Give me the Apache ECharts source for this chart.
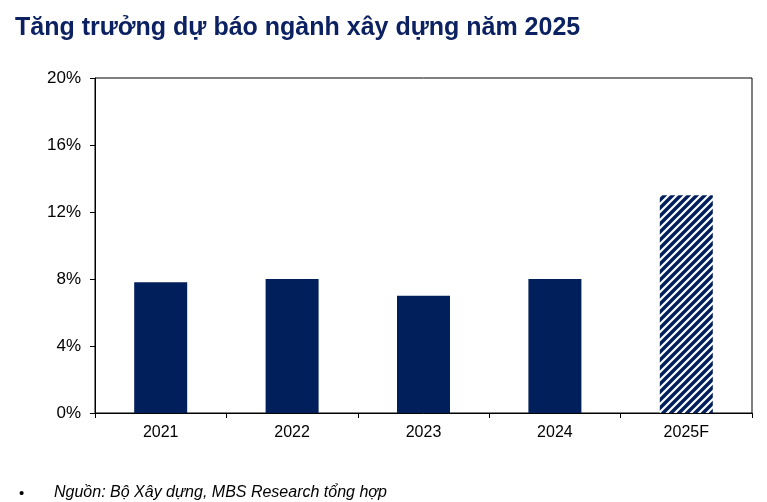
<!DOCTYPE html>
<html>
<head>
<meta charset="utf-8">
<script src="https://cdn.jsdelivr.net/npm/echarts@6/dist/echarts.min.js"></script>
<style>
body{margin:0;background:#fff;}
#chart{width:767px;height:502px;}
</style>
</head>
<body>
<div id="chart"></div>
<script>
var categories = ['2021', '2022', '2023', '2024', '2025F'];
var growth = [7.8, 8.0, 7.0, 8.0, 13.0];
var forecastIndex = 4;

// hatch pattern for forecast bar
var pc = document.createElement('canvas');
pc.width = 8; pc.height = 8;
var ctx = pc.getContext('2d');
ctx.fillStyle = '#001f5b';
ctx.fillRect(0, 0, 8, 8);
ctx.strokeStyle = '#ffffff';
ctx.lineWidth = 2.2;
ctx.beginPath();
ctx.moveTo(-2, 10); ctx.lineTo(10, -2);
ctx.moveTo(-6, 6); ctx.lineTo(6, -6);
ctx.moveTo(2, 14); ctx.lineTo(14, 2);
ctx.stroke();

var myChart = echarts.init(document.getElementById('chart'));
var option = {
    title: [{
        text: 'Tăng trưởng dự báo ngành xây dựng năm 2025',
        left: 10, top: 11,
        textStyle: {color: '#0b2161', fontSize: 25, fontWeight: 'bold', fontFamily: 'Liberation Sans'}
    }, {
        text: '•',
        left: 14, top: 481,
        textStyle: {color: '#000', fontSize: 15, fontWeight: 'normal', fontFamily: 'Liberation Sans'}
    }, {
        text: 'Nguồn: Bộ Xây dựng, MBS Research tổng hợp',
        left: 49, top: 480,
        textStyle: {color: '#000', fontSize: 16, fontWeight: 'normal', fontStyle: 'italic', fontFamily: 'Liberation Sans'}
    }],
    grid: {
        left: 95, right: 15, top: 78, bottom: 89,
        show: true, borderColor: '#000', borderWidth: 1
    },
    xAxis: {
        type: 'category',
        data: categories,
        axisLine: {lineStyle: {color: '#000'}},
        axisTick: {show: true, length: 5, lineStyle: {color: '#000'}},
        axisLabel: {color: '#000', fontSize: 16, margin: 12, fontFamily: 'Liberation Sans'}
    },
    yAxis: {
        type: 'value',
        min: 0, max: 20, interval: 4,
        axisLine: {show: true, lineStyle: {color: '#000'}},
        axisTick: {show: true, length: 5, lineStyle: {color: '#000'}},
        splitLine: {show: false},
        axisLabel: {color: '#000', fontSize: 17, margin: 14, formatter: '{value}%', fontFamily: 'Liberation Sans'}
    },
    series: [{
        type: 'bar',
        barWidth: 53,
        data: growth.map(function (v, i) {
            return {
                value: v,
                itemStyle: {color: i === forecastIndex ? {image: pc, repeat: 'repeat'} : '#001f5b'}
            };
        })
    }]
};
myChart.setOption(option);
</script>
</body>
</html>
